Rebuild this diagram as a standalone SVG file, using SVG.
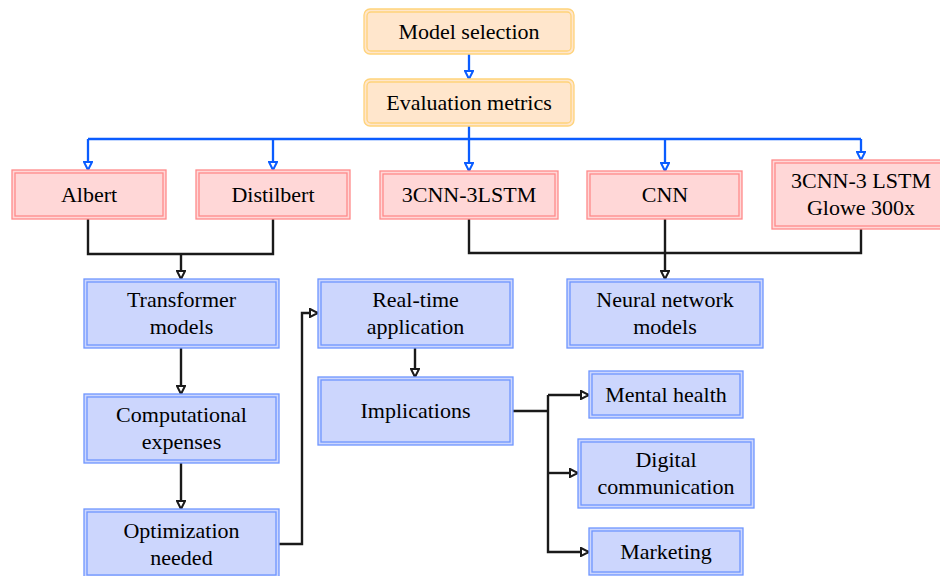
<svg xmlns="http://www.w3.org/2000/svg" width="940" height="576" viewBox="0 0 940 576">
<style>
text{font-family:"Liberation Serif","Times New Roman",serif;font-size:22px;fill:#000;text-anchor:middle}
.o1{fill:#ffe6cc;stroke:#ffd37a;stroke-width:1.3}
.o2{fill:none;stroke:#ffd37a;stroke-width:1.3}
.r1{fill:#ffd7d7;stroke:#ff8a8a;stroke-width:1.3}
.r2{fill:none;stroke:#ff8a8a;stroke-width:1.3}
.b1{fill:#ccd6fd;stroke:#6f96ff;stroke-width:1.3}
.b2{fill:none;stroke:#6f96ff;stroke-width:1.3}
.cb{fill:none;stroke:#0a5cff;stroke-width:2.3}
.ck{fill:none;stroke:#1a1a1a;stroke-width:2.4}
</style>
<defs>
<marker id="ab" viewBox="0 0 10 10" refX="9" refY="5" markerWidth="10" markerHeight="10" markerUnits="userSpaceOnUse" orient="auto">
<path d="M1,1 L9,5 L1,9 z" fill="#fff" stroke="#0a5cff" stroke-width="2"/>
</marker>
<marker id="ak" viewBox="0 0 10 10" refX="9" refY="5" markerWidth="10" markerHeight="10" markerUnits="userSpaceOnUse" orient="auto">
<path d="M1,1 L9,5 L1,9 z" fill="#fff" stroke="#1a1a1a" stroke-width="2"/>
</marker>
</defs>
<g id="connectors">
<path class="cb" d="M469,54 V79" marker-end="url(#ab)"/>
<path class="cb" d="M469,126 V171" marker-end="url(#ab)"/>
<path class="cb" d="M88,139 H861"/>
<path class="cb" d="M88,139 V170" marker-end="url(#ab)"/>
<path class="cb" d="M273,139 V170" marker-end="url(#ab)"/>
<path class="cb" d="M665,139 V171" marker-end="url(#ab)"/>
<path class="cb" d="M861,139 V160" marker-end="url(#ab)"/>
<path class="ck" d="M88,219 V254 H273 V219"/>
<path class="ck" d="M181,254 V279" marker-end="url(#ak)"/>
<path class="ck" d="M469,219 V253 H861 V229"/>
<path class="ck" d="M665,219 V279" marker-end="url(#ak)"/>
<path class="ck" d="M181,348 V394" marker-end="url(#ak)"/>
<path class="ck" d="M181,463 V509" marker-end="url(#ak)"/>
<path class="ck" d="M279,544 H302 V313 H318" marker-end="url(#ak)"/>
<path class="ck" d="M415,348 V377" marker-end="url(#ak)"/>
<path class="ck" d="M513,411 H548"/>
<path class="ck" d="M548,395 H589" marker-end="url(#ak)"/>
<path class="ck" d="M548,473 H578" marker-end="url(#ak)"/>
<path class="ck" d="M548,395 V552 H589" marker-end="url(#ak)"/>
</g>
<g id="model-selection">
<rect class="o1" x="364" y="9" width="210" height="45" rx="6"/>
<rect class="o2" x="367" y="12" width="204" height="39" rx="4"/>
<text x="469" y="39">Model selection</text>
</g>
<g id="evaluation-metrics">
<rect class="o1" x="364" y="79" width="210" height="47" rx="6"/>
<rect class="o2" x="367" y="82" width="204" height="41" rx="4"/>
<text x="469" y="110">Evaluation metrics</text>
</g>
<g id="albert">
<rect class="r1" x="12" y="170" width="154" height="49"/>
<rect class="r2" x="15" y="173" width="148" height="43"/>
<text x="89" y="202">Albert</text>
</g>
<g id="distilbert">
<rect class="r1" x="196" y="170" width="154" height="49"/>
<rect class="r2" x="199" y="173" width="148" height="43"/>
<text x="273" y="202">Distilbert</text>
</g>
<g id="cnn3-lstm3">
<rect class="r1" x="380" y="171" width="178" height="48"/>
<rect class="r2" x="383" y="174" width="172" height="42"/>
<text x="469" y="202">3CNN-3LSTM</text>
</g>
<g id="cnn">
<rect class="r1" x="587" y="171" width="155" height="48"/>
<rect class="r2" x="590" y="174" width="149" height="42"/>
<text x="665" y="202">CNN</text>
</g>
<g id="cnn3-lstm3-glowe">
<rect class="r1" x="772" y="160" width="178" height="69"/>
<rect class="r2" x="775" y="163" width="172" height="63"/>
<text x="861" y="188">3CNN-3 LSTM</text>
<text x="861" y="215">Glowe 300x</text>
</g>
<g id="transformer-models">
<rect class="b1" x="84" y="279" width="195" height="69"/>
<rect class="b2" x="87" y="282" width="189" height="63"/>
<text x="181.5" y="307">Transformer</text>
<text x="181.5" y="334">models</text>
</g>
<g id="computational-expenses">
<rect class="b1" x="84" y="394" width="195" height="69"/>
<rect class="b2" x="87" y="397" width="189" height="63"/>
<text x="181.5" y="422">Computational</text>
<text x="181.5" y="449">expenses</text>
</g>
<g id="optimization-needed">
<rect class="b1" x="84" y="509" width="195" height="69"/>
<rect class="b2" x="87" y="512" width="189" height="63"/>
<text x="181.5" y="538">Optimization</text>
<text x="181.5" y="565">needed</text>
</g>
<g id="real-time-application">
<rect class="b1" x="318" y="279" width="195" height="69"/>
<rect class="b2" x="321" y="282" width="189" height="63"/>
<text x="415.5" y="307">Real-time</text>
<text x="415.5" y="334">application</text>
</g>
<g id="implications">
<rect class="b1" x="318" y="377" width="195" height="68"/>
<rect class="b2" x="321" y="380" width="189" height="62"/>
<text x="415.5" y="418">Implications</text>
</g>
<g id="neural-network-models">
<rect class="b1" x="567" y="279" width="196" height="69"/>
<rect class="b2" x="570" y="282" width="190" height="63"/>
<text x="665" y="307">Neural network</text>
<text x="665" y="334">models</text>
</g>
<g id="mental-health">
<rect class="b1" x="589" y="371" width="154" height="47"/>
<rect class="b2" x="592" y="374" width="148" height="41"/>
<text x="666" y="402">Mental health</text>
</g>
<g id="digital-communication">
<rect class="b1" x="578" y="439" width="176" height="69"/>
<rect class="b2" x="581" y="442" width="170" height="63"/>
<text x="666" y="467">Digital</text>
<text x="666" y="494">communication</text>
</g>
<g id="marketing">
<rect class="b1" x="589" y="528" width="154" height="47"/>
<rect class="b2" x="592" y="531" width="148" height="41"/>
<text x="666" y="559">Marketing</text>
</g>
</svg>
